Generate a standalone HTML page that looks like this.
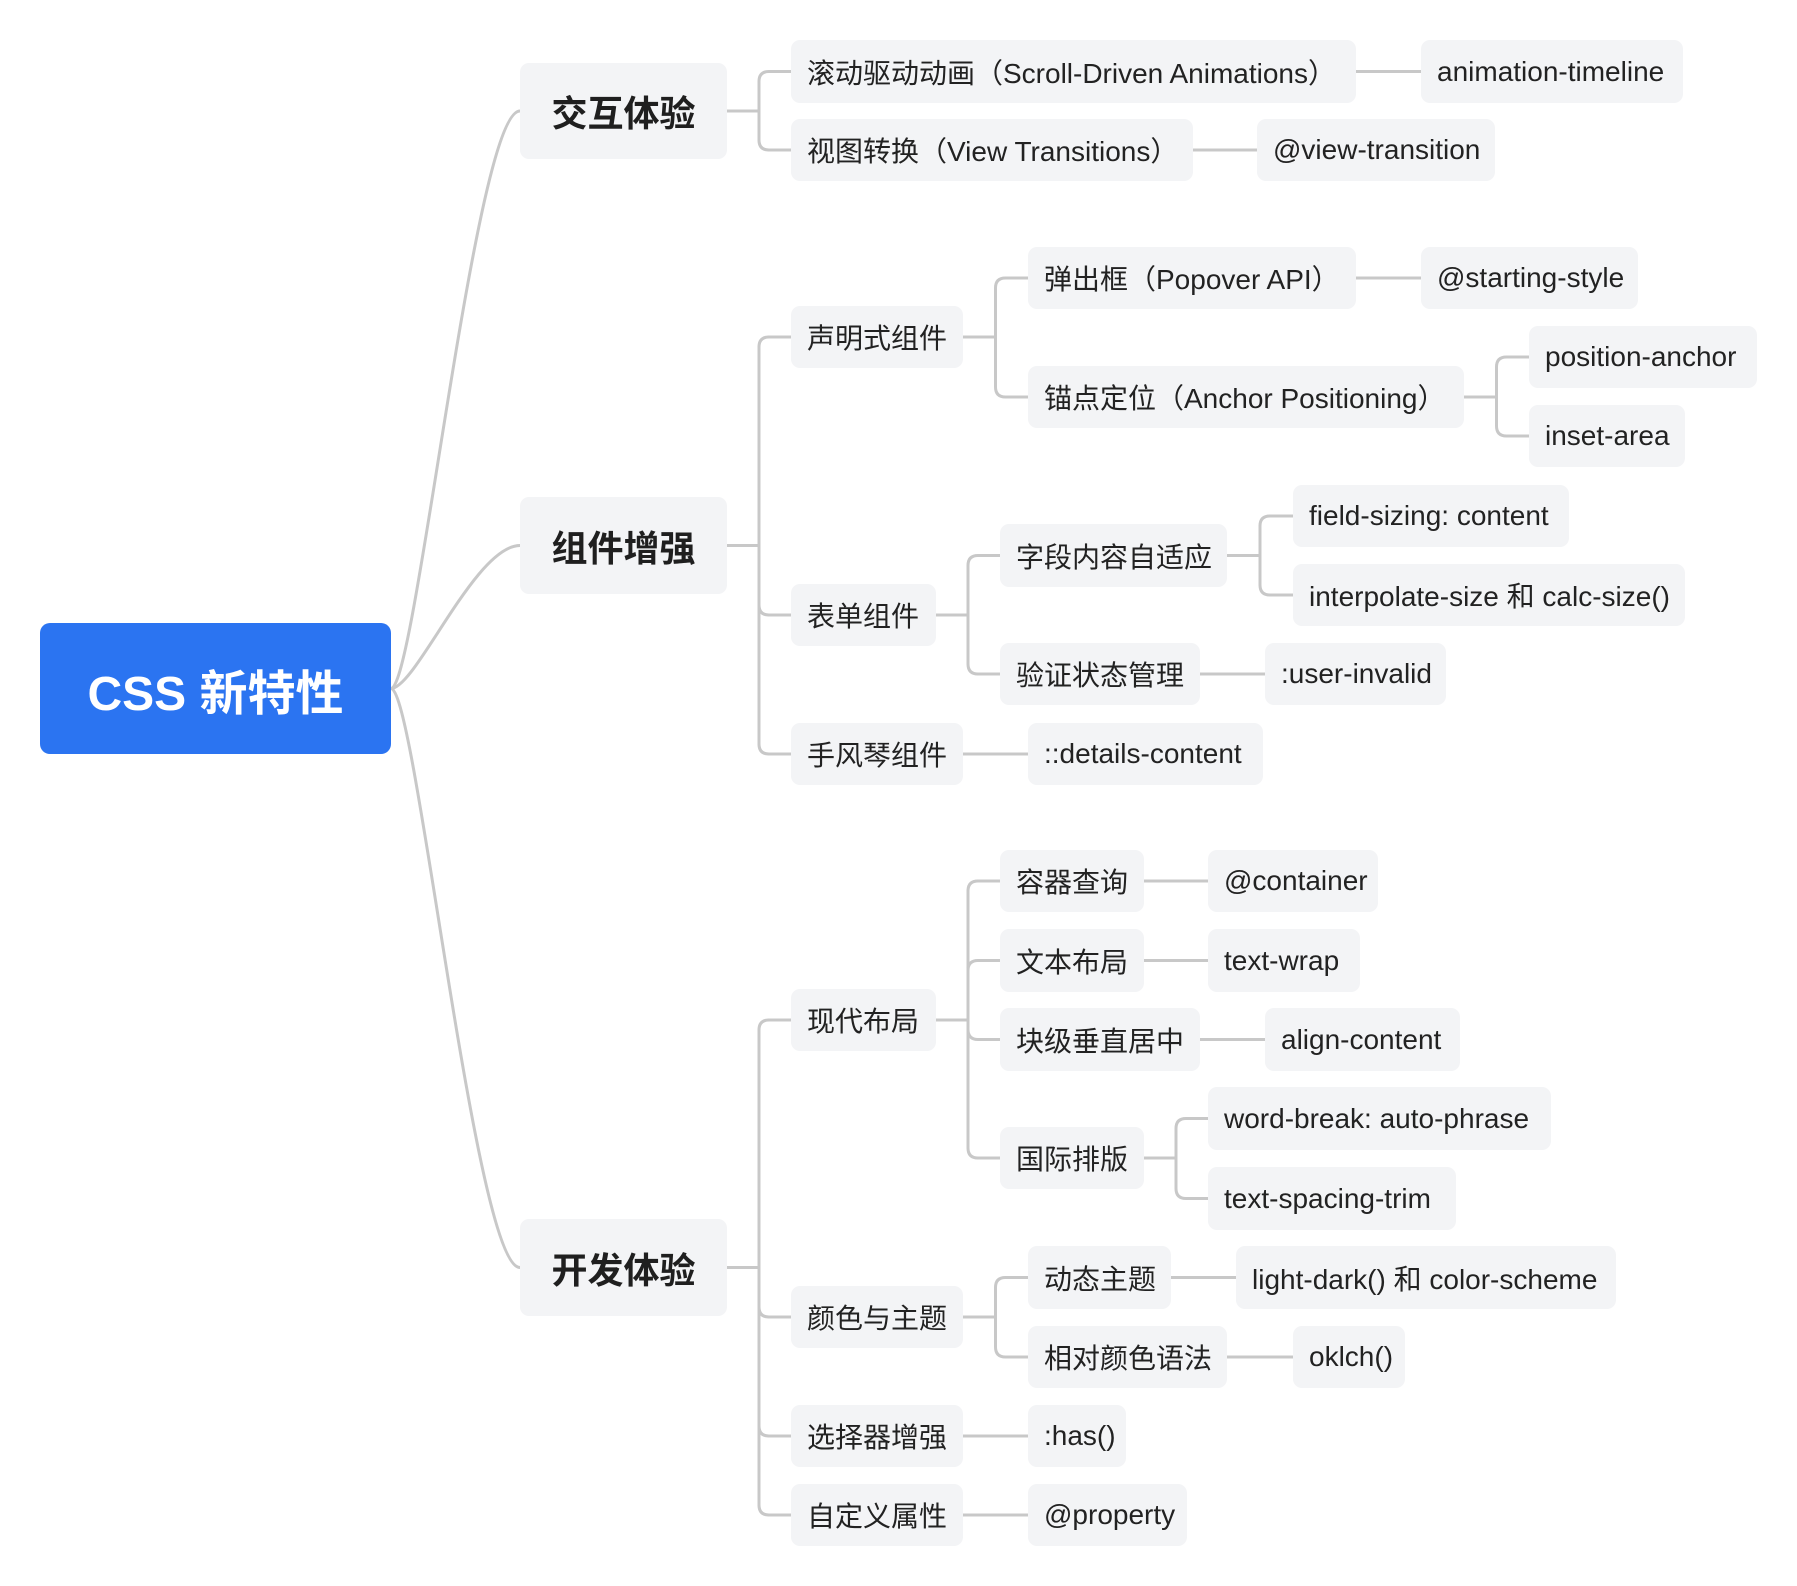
<!DOCTYPE html>
<html><head><meta charset="utf-8">
<style>
html,body{margin:0;padding:0;background:#fff;}
body{width:1797px;height:1586px;position:relative;overflow:hidden;font-family:"Liberation Sans","Noto Sans CJK SC",sans-serif;}
.n{position:absolute;background:#f3f4f6;border-radius:9px;color:#222;font-size:28px;display:flex;align-items:center;padding-left:16px;box-sizing:border-box;white-space:nowrap;}
.l1{justify-content:center;padding:0;font-weight:bold;font-size:36px;color:#1f1f1f;}
.root{background:#2b74f1;color:#fff;font-weight:bold;font-size:48px;justify-content:center;padding:0;border-radius:10px;}
svg{position:absolute;left:0;top:0;}
</style></head><body>
<svg id="s" width="1797" height="1586"><g id="g" fill="none" stroke="#c8c8c8" stroke-width="3"></g></svg>

<div class="n root" id="root" style="left:40px;top:623px;width:351px;height:131px;">CSS 新特性</div>

<div class="n l1" id="a" style="left:520px;top:63px;width:207px;height:96px;">交互体验</div>
<div class="n l1" id="b" style="left:520px;top:497px;width:207px;height:97px;">组件增强</div>
<div class="n l1" id="c" style="left:520px;top:1219px;width:207px;height:97px;">开发体验</div>

<div class="n" id="a1" style="left:791px;top:40px;width:565px;height:63px;">滚动驱动动画（Scroll-Driven Animations）</div>
<div class="n" id="a1a" style="left:1421px;top:40px;width:262px;height:63px;">animation-timeline</div>
<div class="n" id="a2" style="left:791px;top:119px;width:402px;height:62px;">视图转换（View Transitions）</div>
<div class="n" id="a2a" style="left:1257px;top:119px;width:238px;height:62px;">@view-transition</div>

<div class="n" id="b1" style="left:791px;top:306px;width:172px;height:62px;">声明式组件</div>
<div class="n" id="b1a" style="left:1028px;top:247px;width:328px;height:62px;">弹出框（Popover API）</div>
<div class="n" id="b1a1" style="left:1421px;top:247px;width:217px;height:62px;">@starting-style</div>
<div class="n" id="b1b" style="left:1028px;top:366px;width:436px;height:62px;">锚点定位（Anchor Positioning）</div>
<div class="n" id="b1b1" style="left:1529px;top:326px;width:228px;height:62px;">position-anchor</div>
<div class="n" id="b1b2" style="left:1529px;top:405px;width:156px;height:62px;">inset-area</div>
<div class="n" id="b2" style="left:791px;top:584px;width:145px;height:62px;">表单组件</div>
<div class="n" id="b2a" style="left:1000px;top:524px;width:227px;height:63px;">字段内容自适应</div>
<div class="n" id="b2a1" style="left:1293px;top:485px;width:276px;height:62px;">field-sizing: content</div>
<div class="n" id="b2a2" style="left:1293px;top:564px;width:392px;height:62px;">interpolate-size 和 calc-size()</div>
<div class="n" id="b2b" style="left:1000px;top:643px;width:200px;height:62px;">验证状态管理</div>
<div class="n" id="b2b1" style="left:1265px;top:643px;width:181px;height:62px;">:user-invalid</div>
<div class="n" id="b3" style="left:791px;top:723px;width:172px;height:62px;">手风琴组件</div>
<div class="n" id="b3a" style="left:1028px;top:723px;width:235px;height:62px;">::details-content</div>

<div class="n" id="c1" style="left:791px;top:989px;width:145px;height:62px;">现代布局</div>
<div class="n" id="c1a" style="left:1000px;top:850px;width:144px;height:62px;">容器查询</div>
<div class="n" id="c1a1" style="left:1208px;top:850px;width:170px;height:62px;">@container</div>
<div class="n" id="c1b" style="left:1000px;top:929px;width:144px;height:63px;">文本布局</div>
<div class="n" id="c1b1" style="left:1208px;top:929px;width:152px;height:63px;">text-wrap</div>
<div class="n" id="c1c" style="left:1000px;top:1008px;width:200px;height:63px;">块级垂直居中</div>
<div class="n" id="c1c1" style="left:1265px;top:1008px;width:195px;height:63px;">align-content</div>
<div class="n" id="c1d" style="left:1000px;top:1127px;width:144px;height:62px;">国际排版</div>
<div class="n" id="c1d1" style="left:1208px;top:1087px;width:343px;height:63px;">word-break: auto-phrase</div>
<div class="n" id="c1d2" style="left:1208px;top:1167px;width:248px;height:63px;">text-spacing-trim</div>
<div class="n" id="c2" style="left:791px;top:1286px;width:172px;height:62px;">颜色与主题</div>
<div class="n" id="c2a" style="left:1028px;top:1246px;width:143px;height:63px;">动态主题</div>
<div class="n" id="c2a1" style="left:1236px;top:1246px;width:380px;height:63px;">light-dark() 和 color-scheme</div>
<div class="n" id="c2b" style="left:1028px;top:1326px;width:199px;height:62px;">相对颜色语法</div>
<div class="n" id="c2b1" style="left:1293px;top:1326px;width:112px;height:62px;">oklch()</div>
<div class="n" id="c3" style="left:791px;top:1405px;width:172px;height:62px;">选择器增强</div>
<div class="n" id="c3a" style="left:1028px;top:1405px;width:98px;height:62px;">:has()</div>
<div class="n" id="c4" style="left:791px;top:1484px;width:172px;height:62px;">自定义属性</div>
<div class="n" id="c4a" style="left:1028px;top:1484px;width:159px;height:62px;">@property</div>

<script>
var g=document.getElementById('g');
function R(id){var e=document.getElementById(id);var l=parseFloat(e.style.left),t=parseFloat(e.style.top),w=parseFloat(e.style.width),h=parseFloat(e.style.height);return{l:l,r:l+w,m:t+h/2};}
function P(d){var p=document.createElementNS('http://www.w3.org/2000/svg','path');p.setAttribute('d',d);g.appendChild(p);}
var tree={root:['a','b','c'],a:['a1','a2'],a1:['a1a'],a2:['a2a'],b:['b1','b2','b3'],b1:['b1a','b1b'],b1a:['b1a1'],b1b:['b1b1','b1b2'],b2:['b2a','b2b'],b2a:['b2a1','b2a2'],b2b:['b2b1'],b3:['b3a'],c:['c1','c2','c3','c4'],c1:['c1a','c1b','c1c','c1d'],c1a:['c1a1'],c1b:['c1b1'],c1c:['c1c1'],c1d:['c1d1','c1d2'],c2:['c2a','c2b'],c2a:['c2a1'],c2b:['c2b1'],c3:['c3a'],c4:['c4a']};
for(var k in tree){var p=R(k),ch=tree[k];
 if(k==='root'){ch.forEach(function(c){var q=R(c);P('M'+p.r+','+p.m+' C'+(p.r+25)+','+p.m+' '+(q.l-45)+','+q.m+' '+q.l+','+q.m);});continue;}
 if(ch.length===1){var q=R(ch[0]);P('M'+p.r+','+p.m+' H'+q.l);continue;}
 var q0=R(ch[0]);var bx=(p.r+q0.l)/2,r=10;P('M'+p.r+','+p.m+' H'+bx);
 ch.forEach(function(c){var q=R(c);var s=q.m<p.m?1:-1;
  if(Math.abs(q.m-p.m)<1){P('M'+bx+','+p.m+' H'+q.l);return;}
  P('M'+bx+','+p.m+' V'+(q.m+s*r)+' Q'+bx+','+q.m+' '+(bx+r)+','+q.m+' H'+q.l);});
}
</script>
</body></html>
